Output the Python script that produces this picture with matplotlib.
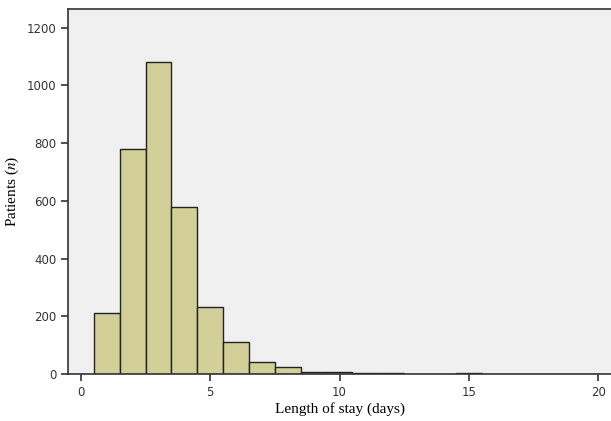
import numpy as np
import matplotlib.pyplot as plt

# length of stay histogram (counts)
days = [1, 2, 3, 4, 5, 6, 7, 8, 9, 10, 11, 12, 15]
patients = [210, 780, 1080, 577, 231, 110, 43, 24, 8, 7, 3, 3, 2]
xticks = [0, 5, 10, 15, 20]
yticks = [0, 200, 400, 600, 800, 1000, 1200]

plt.rcParams["mathtext.fontset"] = "stix"

fig = plt.figure(figsize=(6.11, 4.21), dpi=100)
ax = fig.add_axes([0.1113, 0.1116, 0.8887, 0.8682])
ax.set_facecolor("#f0f0f0")

ax.bar(days, patients, width=1.0, color="#d3cf99", edgecolor="#222222", linewidth=1.0)

ax.set_xlim(-0.5, 20.5)
ax.set_ylim(0, 1266)
ax.set_xticks(xticks)
ax.set_yticks(yticks)
ax.tick_params(direction="out", length=5, width=1.2, color="#333333",
               labelsize=8.5, labelcolor="#333333")

for s in ["left", "bottom", "top"]:
    ax.spines[s].set_color("#333333")
    ax.spines[s].set_linewidth(1.2)
ax.spines["right"].set_visible(False)

ax.set_xlabel("Length of stay (days)", family="Liberation Serif", fontsize=11, labelpad=2)
ax.set_ylabel("Patients ($n$)", family="Liberation Serif", fontsize=11, labelpad=4)

fig.savefig("out.png", dpi=100)
